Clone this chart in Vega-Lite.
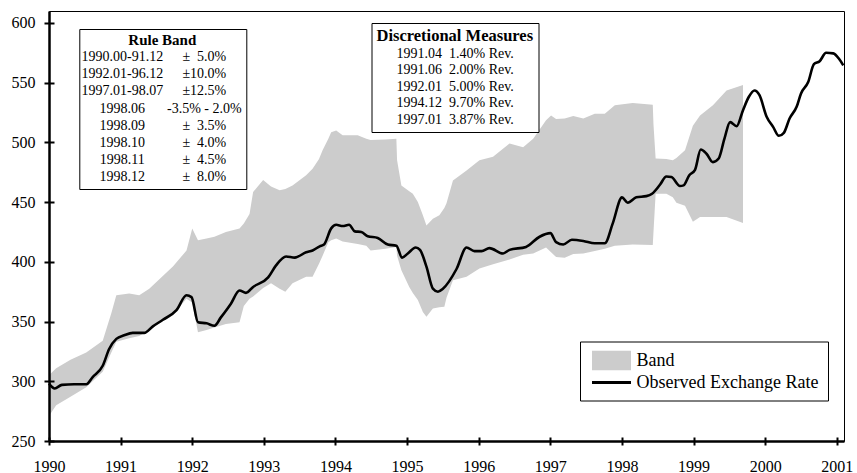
{
  "$schema": "https://vega.github.io/schema/vega-lite/v6.json",
  "width": 795,
  "height": 430,
  "autosize": {"type": "none"},
  "padding": {"left": 49, "top": 11, "right": 13, "bottom": 32},
  "background": "white",
  "config": {
    "font": "Liberation Serif",
    "view": {"stroke": "black", "strokeWidth": 1},
    "axis": {"grid": false, "labelFont": "Liberation Serif"},
    "legend": {"labelFont": "Liberation Serif", "titleFont": "Liberation Serif"}
  },
  "resolve": {"axis": {"x": "independent", "y": "independent"}},
  "datasets": {
    "rate": [
      {"t": 1990.00, "v": 298}, {"t": 1990.08, "v": 294}, {"t": 1990.18, "v": 297}, {"t": 1990.35, "v": 297.5},
      {"t": 1990.52, "v": 297.5}, {"t": 1990.61, "v": 303.5}, {"t": 1990.75, "v": 313}, {"t": 1990.84, "v": 327},
      {"t": 1990.94, "v": 335.5}, {"t": 1991.05, "v": 338.5}, {"t": 1991.17, "v": 340.5}, {"t": 1991.33, "v": 340.5},
      {"t": 1991.45, "v": 346}, {"t": 1991.59, "v": 351.5}, {"t": 1991.78, "v": 359.5}, {"t": 1991.92, "v": 372},
      {"t": 1991.99, "v": 370.5}, {"t": 1992.08, "v": 349.5}, {"t": 1992.20, "v": 348.5}, {"t": 1992.31, "v": 346.5},
      {"t": 1992.40, "v": 353.5}, {"t": 1992.54, "v": 365}, {"t": 1992.66, "v": 376}, {"t": 1992.75, "v": 374},
      {"t": 1992.85, "v": 379}, {"t": 1993.06, "v": 387}, {"t": 1993.17, "v": 397}, {"t": 1993.31, "v": 404.5},
      {"t": 1993.43, "v": 403.5}, {"t": 1993.59, "v": 408}, {"t": 1993.68, "v": 409.5}, {"t": 1993.78, "v": 413},
      {"t": 1993.84, "v": 414.5}, {"t": 1993.94, "v": 428}, {"t": 1994.01, "v": 431}, {"t": 1994.10, "v": 430},
      {"t": 1994.19, "v": 431}, {"t": 1994.27, "v": 425.5}, {"t": 1994.36, "v": 425}, {"t": 1994.45, "v": 421.5},
      {"t": 1994.59, "v": 420}, {"t": 1994.73, "v": 414.5}, {"t": 1994.85, "v": 413.5}, {"t": 1994.93, "v": 403.5},
      {"t": 1995.01, "v": 407}, {"t": 1995.12, "v": 412}, {"t": 1995.18, "v": 410}, {"t": 1995.27, "v": 396},
      {"t": 1995.36, "v": 377.5}, {"t": 1995.43, "v": 375}, {"t": 1995.50, "v": 377.5}, {"t": 1995.69, "v": 394},
      {"t": 1995.83, "v": 412}, {"t": 1995.94, "v": 409}, {"t": 1996.04, "v": 409}, {"t": 1996.15, "v": 411.5},
      {"t": 1996.34, "v": 407}, {"t": 1996.43, "v": 410}, {"t": 1996.66, "v": 412.5}, {"t": 1996.85, "v": 421},
      {"t": 1997.00, "v": 424}, {"t": 1997.08, "v": 416.5}, {"t": 1997.18, "v": 414.5}, {"t": 1997.30, "v": 418.5},
      {"t": 1997.46, "v": 417.5}, {"t": 1997.62, "v": 415.5}, {"t": 1997.76, "v": 415.5}, {"t": 1997.87, "v": 432},
      {"t": 1998.00, "v": 454}, {"t": 1998.08, "v": 449.5}, {"t": 1998.20, "v": 454}, {"t": 1998.34, "v": 455},
      {"t": 1998.42, "v": 457}, {"t": 1998.53, "v": 464.5}, {"t": 1998.62, "v": 471.5}, {"t": 1998.69, "v": 471},
      {"t": 1998.81, "v": 463.5}, {"t": 1998.86, "v": 464}, {"t": 1998.94, "v": 472.5}, {"t": 1999.02, "v": 477},
      {"t": 1999.10, "v": 494}, {"t": 1999.18, "v": 490.5}, {"t": 1999.27, "v": 483.5}, {"t": 1999.35, "v": 486.5},
      {"t": 1999.43, "v": 503}, {"t": 1999.51, "v": 517}, {"t": 1999.60, "v": 513.5}, {"t": 1999.69, "v": 527},
      {"t": 1999.77, "v": 538}, {"t": 1999.85, "v": 543.5}, {"t": 1999.92, "v": 539.5}, {"t": 2000.02, "v": 521.5},
      {"t": 2000.11, "v": 513}, {"t": 2000.19, "v": 505.5}, {"t": 2000.26, "v": 508}, {"t": 2000.34, "v": 520},
      {"t": 2000.44, "v": 530}, {"t": 2000.50, "v": 541}, {"t": 2000.60, "v": 550.5}, {"t": 2000.68, "v": 565.5},
      {"t": 2000.76, "v": 568}, {"t": 2000.85, "v": 575}, {"t": 2000.95, "v": 574.5}, {"t": 2001.03, "v": 570},
      {"t": 2001.09, "v": 564.5}
    ],
    "band": [
      {"t": 1990.00, "lo": 271, "hi": 305}, {"t": 1990.10, "lo": 280, "hi": 311}, {"t": 1990.30, "lo": 287, "hi": 318},
      {"t": 1990.52, "lo": 295, "hi": 324}, {"t": 1990.75, "lo": 308, "hi": 334}, {"t": 1990.87, "lo": 324, "hi": 357},
      {"t": 1990.94, "lo": 333, "hi": 372}, {"t": 1991.12, "lo": 336, "hi": 373.5}, {"t": 1991.26, "lo": 338, "hi": 372},
      {"t": 1991.40, "lo": 343, "hi": 377.5}, {"t": 1991.73, "lo": 356, "hi": 396}, {"t": 1991.92, "lo": 369, "hi": 409.5},
      {"t": 1992.00, "lo": 366, "hi": 428}, {"t": 1992.08, "lo": 341, "hi": 418}, {"t": 1992.20, "lo": 343, "hi": 419.5},
      {"t": 1992.31, "lo": 345, "hi": 421}, {"t": 1992.47, "lo": 348, "hi": 425}, {"t": 1992.66, "lo": 349.5, "hi": 428},
      {"t": 1992.72, "lo": 363, "hi": 432}, {"t": 1992.80, "lo": 369, "hi": 440}, {"t": 1992.85, "lo": 371, "hi": 458.5},
      {"t": 1992.99, "lo": 378, "hi": 468.5}, {"t": 1993.10, "lo": 382, "hi": 463}, {"t": 1993.22, "lo": 377.5, "hi": 460},
      {"t": 1993.30, "lo": 375, "hi": 461}, {"t": 1993.40, "lo": 382, "hi": 464}, {"t": 1993.59, "lo": 387.5, "hi": 472.5},
      {"t": 1993.68, "lo": 387.5, "hi": 478}, {"t": 1993.77, "lo": 398.5, "hi": 486}, {"t": 1993.82, "lo": 405, "hi": 493.5},
      {"t": 1993.90, "lo": 416.5, "hi": 503}, {"t": 1993.94, "lo": 418, "hi": 508.5}, {"t": 1994.01, "lo": 419.5, "hi": 510},
      {"t": 1994.10, "lo": 417, "hi": 506}, {"t": 1994.31, "lo": 415, "hi": 506}, {"t": 1994.43, "lo": 413.5, "hi": 503},
      {"t": 1994.49, "lo": 409.5, "hi": 502}, {"t": 1994.70, "lo": 411, "hi": 502.5}, {"t": 1994.85, "lo": 412.5, "hi": 503},
      {"t": 1994.86, "lo": 405, "hi": 485}, {"t": 1994.92, "lo": 393, "hi": 464}, {"t": 1995.03, "lo": 379, "hi": 459},
      {"t": 1995.08, "lo": 374, "hi": 457}, {"t": 1995.15, "lo": 368, "hi": 450}, {"t": 1995.22, "lo": 358, "hi": 439},
      {"t": 1995.27, "lo": 354, "hi": 430.5}, {"t": 1995.36, "lo": 361, "hi": 436}, {"t": 1995.45, "lo": 362, "hi": 439},
      {"t": 1995.52, "lo": 362.5, "hi": 445}, {"t": 1995.55, "lo": 370, "hi": 449}, {"t": 1995.64, "lo": 384.5, "hi": 468},
      {"t": 1995.83, "lo": 387.5, "hi": 476.5}, {"t": 1996.01, "lo": 394.5, "hi": 485}, {"t": 1996.20, "lo": 398, "hi": 488},
      {"t": 1996.43, "lo": 402, "hi": 499}, {"t": 1996.62, "lo": 406, "hi": 496}, {"t": 1996.76, "lo": 407, "hi": 503},
      {"t": 1996.94, "lo": 412, "hi": 518.5}, {"t": 1997.01, "lo": 408, "hi": 522.5}, {"t": 1997.08, "lo": 404, "hi": 519.5},
      {"t": 1997.20, "lo": 403.5, "hi": 520}, {"t": 1997.32, "lo": 406.5, "hi": 522}, {"t": 1997.46, "lo": 407, "hi": 520},
      {"t": 1997.62, "lo": 409, "hi": 524}, {"t": 1997.76, "lo": 411, "hi": 524}, {"t": 1997.90, "lo": 413.5, "hi": 531},
      {"t": 1998.15, "lo": 414.5, "hi": 533}, {"t": 1998.43, "lo": 414, "hi": 531.5}, {"t": 1998.44, "lo": 425, "hi": 515},
      {"t": 1998.47, "lo": 457, "hi": 486.5}, {"t": 1998.62, "lo": 457, "hi": 486}, {"t": 1998.71, "lo": 454, "hi": 485},
      {"t": 1998.76, "lo": 449.5, "hi": 487}, {"t": 1998.88, "lo": 447, "hi": 493.5}, {"t": 1998.99, "lo": 433.5, "hi": 514},
      {"t": 1999.09, "lo": 437.5, "hi": 522.5}, {"t": 1999.27, "lo": 437.5, "hi": 531}, {"t": 1999.46, "lo": 437.5, "hi": 543.5},
      {"t": 1999.69, "lo": 432.5, "hi": 548}
    ],
    "series": [
      {"s": "Band"}, {"s": "Observed Exchange Rate"}
    ],
    "rule": [
      {"k": "1990.00-91.12"}, {"k": "±\u20075.0%"},
      {"k": "1992.01-96.12"}, {"k": "±10.0%"},
      {"k": "1997.01-98.07"}, {"k": "±12.5%"},
      {"k": "1998.06"}, {"k": "-3.5% - 2.0%"},
      {"k": "1998.09"}, {"k": "±\u20073.5%"},
      {"k": "1998.10"}, {"k": "±\u20074.0%"},
      {"k": "1998.11"}, {"k": "±\u20074.5%"},
      {"k": "1998.12"}, {"k": "±\u20078.0%"}
    ],
    "disc": [
      {"m": "1991.04\u20021.40% Rev."},
      {"m": "1991.06\u20022.00% Rev."},
      {"m": "1992.01\u20025.00% Rev."},
      {"m": "1994.12\u20029.70% Rev."},
      {"m": "1997.01\u20023.87% Rev."}
    ]
  },
  "layer": [
    {
      "data": {"name": "band"},
      "mark": {"type": "area", "opacity": 1},
      "encoding": {
        "x": {
          "field": "t", "type": "quantitative",
          "scale": {"domain": [1990, 2001.1], "nice": false, "zero": false},
          "axis": {
            "orient": "bottom",
            "title": null,
            "values": [1990, 1990.5, 1991, 1991.5, 1992, 1992.5, 1993, 1993.5, 1994, 1994.5, 1995, 1995.5, 1996, 1996.5, 1997, 1997.5, 1998, 1998.5, 1999, 1999.5, 2000, 2000.5, 2001],
            "format": "d",
            "labelExpr": "datum.value % 1 === 0 ? datum.label : ''",
            "labelFlush": false,
            "labelOverlap": false,
            "labelFont": "Liberation Serif",
            "labelFontSize": 16,
            "labelColor": "black",
            "labelPadding": 13,
            "tickSize": 4,
            "tickWidth": 2,
            "tickColor": "black",
            "domainColor": "black",
            "domainWidth": 2.5,
            "grid": false,
            "zindex": 1
          }
        },
        "y": {
          "field": "lo", "type": "quantitative",
          "scale": {"domain": [250, 610], "nice": false, "zero": false},
          "axis": {
            "orient": "left",
            "title": null,
            "values": [250, 300, 350, 400, 450, 500, 550, 600],
            "labelFont": "Liberation Serif",
            "labelFontSize": 16,
            "labelColor": "black",
            "labelPadding": 9,
            "tickSize": 5,
            "tickWidth": 2,
            "tickColor": "black",
            "domainColor": "black",
            "domainWidth": 2.5,
            "grid": false,
            "zindex": 1
          }
        },
        "y2": {"field": "hi"},
        "color": {
          "datum": "Band", "type": "nominal",
          "scale": {"domain": ["Band", "Observed Exchange Rate"], "range": ["#cccccc", "#000000"]},
          "legend": {
            "orient": "none", "legendX": 531, "legendY": 330.5,
            "title": null,
            "labelFont": "Liberation Serif", "labelFontSize": 18, "labelColor": "black", "labelLimit": 400,
            "symbolSize": 380, "symbolStrokeWidth": 0, "symbolOpacity": 1, "symbolOffset": 12.5, "labelOffset": 15, "rowPadding": 2,
            "padding": 9, "fillColor": "white", "strokeColor": "black"
          }
        }
      }
    },
    {
      "data": {"name": "rate"},
      "mark": {"type": "line", "strokeWidth": 2.6, "interpolate": "monotone"},
      "encoding": {
        "x": {
          "field": "t", "type": "quantitative",
          "axis": {
            "orient": "bottom", "title": null,
            "values": [1990, 1991, 1992, 1993, 1994, 1995, 1996, 1997, 1998, 1999, 2000, 2001],
            "labels": false, "domain": false, "grid": false,
            "tickSize": -4, "tickWidth": 2, "tickColor": "black", "zindex": 1
          }
        },
        "y": {
          "field": "v", "type": "quantitative",
          "axis": {
            "orient": "left", "title": null,
            "values": [250, 300, 350, 400, 450, 500, 550, 600],
            "labels": false, "domain": false, "grid": false,
            "tickSize": -5, "tickWidth": 2, "tickColor": "black", "zindex": 1
          }
        },
        "color": {"datum": "Observed Exchange Rate", "type": "nominal"}
      }
    },
    {
      "data": {"name": "series"},
      "mark": {"type": "point", "filled": true, "opacity": 0},
      "encoding": {
        "color": {"field": "s", "type": "nominal"},
        "shape": {
          "field": "s", "type": "nominal",
          "scale": {"domain": ["Band", "Observed Exchange Rate"], "range": ["M-2,-1H2V1H-2Z", "M-2,-0.15H2V0.15H-2Z"]},
          "legend": {
            "orient": "none", "legendX": 531, "legendY": 330.5,
            "title": null,
            "labelFont": "Liberation Serif", "labelFontSize": 18, "labelColor": "black", "labelLimit": 400,
            "symbolSize": 380, "symbolStrokeWidth": 0, "symbolOpacity": 1, "symbolOffset": 12.5, "labelOffset": 15, "rowPadding": 2,
            "padding": 9, "fillColor": "white", "strokeColor": "black"
          }
        }
      }
    },
    {
      "data": {"name": "rule"},
      "mark": {"type": "point", "opacity": 0},
      "encoding": {
        "stroke": {
          "field": "k", "type": "nominal",
          "scale": {"domain": ["1990.00-91.12", "1992.01-96.12", "1997.01-98.07", "1998.06", "1998.09", "1998.10", "1998.11", "1998.12", "±\u20075.0%", "±10.0%", "±12.5%", "-3.5% - 2.0%", "±\u20073.5%", "±\u20074.0%", "±\u20074.5%", "±\u20078.0%"]},
          "legend": {
            "orient": "none", "legendX": 30.3, "legendY": 18,
            "title": "Rule Band",
            "titleFont": "Liberation Serif", "titleFontSize": 15, "titleFontWeight": "bold", "titleColor": "black",
            "titleAnchor": "middle", "titlePadding": 2,
            "columns": 2, "columnPadding": 2, "rowPadding": 3.2,
            "labelFont": "Liberation Serif", "labelFontSize": 14, "labelColor": "black", "labelLimit": 300,
            "labelAlign": "center", "labelOffset": 25,
            "symbolSize": 1, "symbolOpacity": 0, "symbolStrokeWidth": 0,
            "padding": 4, "fillColor": "white", "strokeColor": "black"
          }
        }
      }
    },
    {
      "data": {"name": "disc"},
      "mark": {"type": "point", "opacity": 0},
      "encoding": {
        "strokeDash": {
          "field": "m", "type": "nominal",
          "scale": {"domain": ["1991.04\u20021.40% Rev.", "1991.06\u20022.00% Rev.", "1992.01\u20025.00% Rev.", "1994.12\u20029.70% Rev.", "1997.01\u20023.87% Rev."]},
          "legend": {
            "orient": "none", "legendX": 322.5, "legendY": 12,
            "title": "Discretional Measures",
            "titleFont": "Liberation Serif", "titleFontSize": 16.5, "titleFontWeight": "bold", "titleColor": "black",
            "titleAnchor": "start", "titlePadding": 2,
            "rowPadding": 2.5,
            "labelFont": "Liberation Serif", "labelFontSize": 14, "labelColor": "black", "labelLimit": 300, "labelOffset": 6,
            "symbolSize": 1, "symbolOpacity": 0, "symbolStrokeWidth": 0,
            "padding": 5, "fillColor": "white", "strokeColor": "black"
          }
        }
      }
    }
  ]
}
